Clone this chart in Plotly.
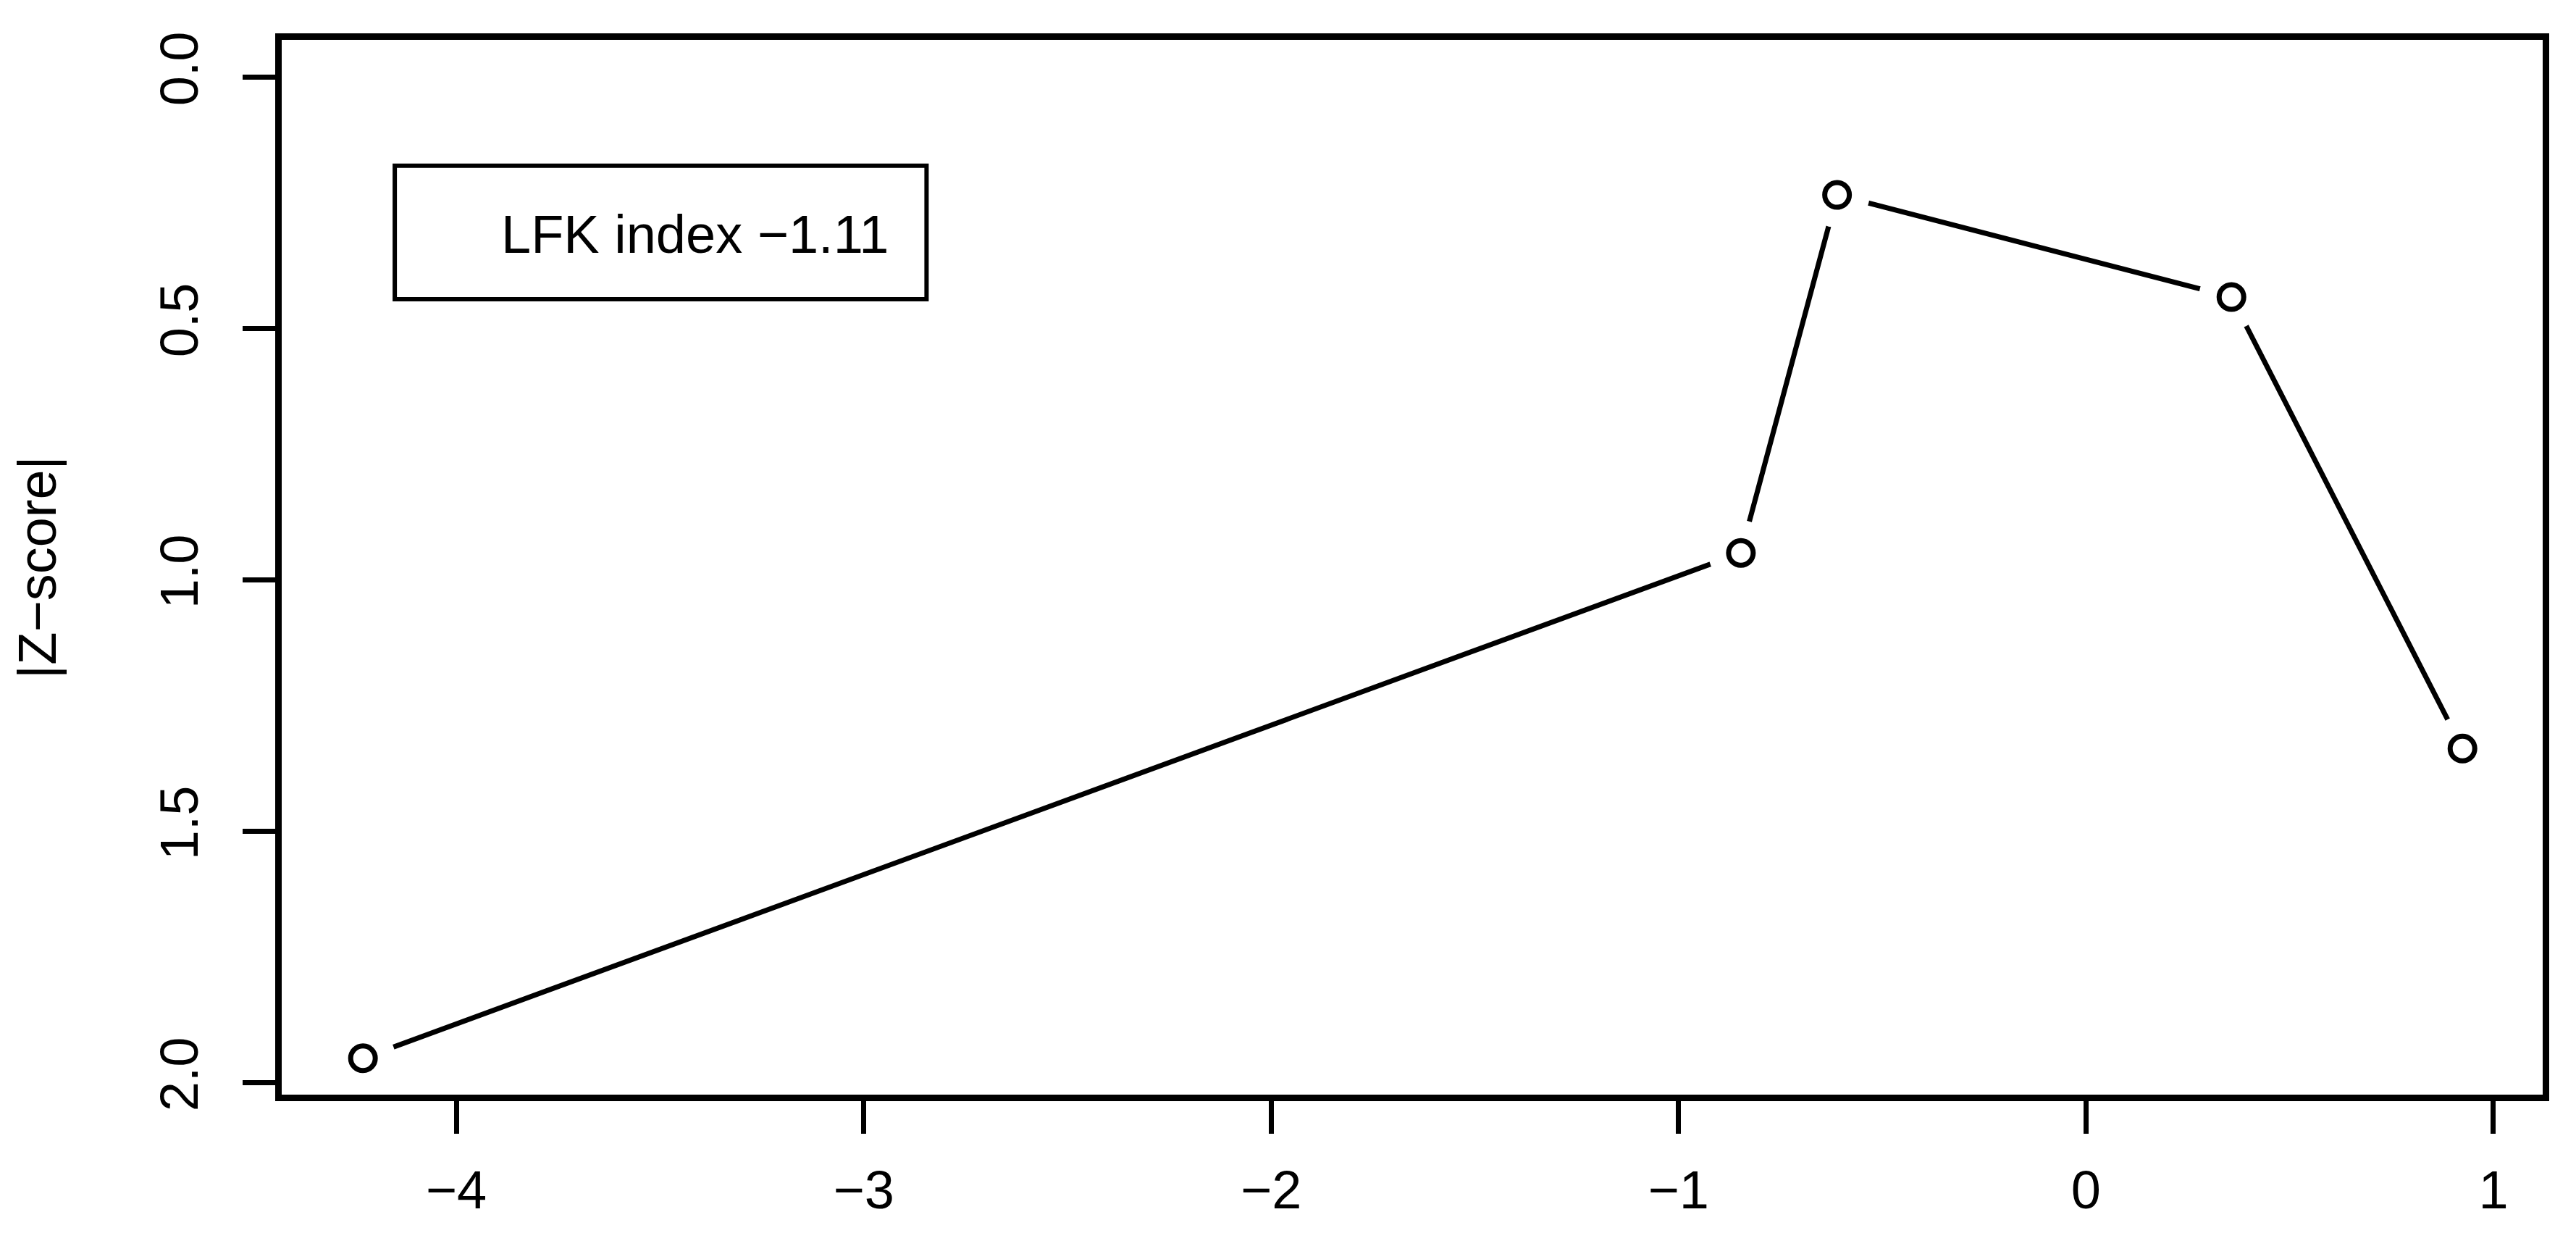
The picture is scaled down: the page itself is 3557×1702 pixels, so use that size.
import plotly.graph_objects as go

# valores (Doi plot)
effect = [-4.229, -0.847, -0.611, 0.357, 0.924]
zscore = [1.952, 0.947, 0.235, 0.438, 1.336]
lfk_label = "LFK index \u22121.11"
x_ticks = [-4, -3, -2, -1, 0, 1]
y_ticks = [0.0, 0.5, 1.0, 1.5, 2.0]
y_ticktext = ["0.0", "0.5", "1.0", "1.5", "2.0"]

FONT = "Liberation Sans, Arial, Helvetica, sans-serif"

fig = go.Figure()
# linea que une los puntos
fig.add_trace(go.Scatter(x=effect, y=zscore, mode="lines",
                         line=dict(color="black", width=7), showlegend=False, hoverinfo="skip"))
# disco blanco para el hueco alrededor de cada punto (como type="b" en R)
fig.add_trace(go.Scatter(x=effect, y=zscore, mode="markers",
                         marker=dict(symbol="circle", size=90, color="white", line=dict(width=0)),
                         showlegend=False, hoverinfo="skip"))
# circulos abiertos
fig.add_trace(go.Scatter(x=effect, y=zscore, mode="markers",
                         marker=dict(symbol="circle-open", size=34, color="black", line=dict(width=7)),
                         showlegend=False))

axis_common = dict(showline=True, linecolor="black", linewidth=9, mirror=True,
                   showgrid=False, zeroline=False, ticks="outside", ticklen=45,
                   tickwidth=7, tickcolor="black",
                   tickfont=dict(family=FONT, size=74, color="black"))

fig.update_xaxes(range=[-4.4284, 1.1209], tickvals=x_ticks, ticklabelstandoff=14, **axis_common)
fig.update_yaxes(range=[2.0245, -0.0735], tickvals=y_ticks, ticktext=y_ticktext,
                 tickangle=-90, ticklabelstandoff=32, **axis_common)

# caja de la leyenda
fig.add_shape(type="rect", xref="paper", yref="paper",
              x0=0.0500, x1=0.2852, y0=0.7541, y1=0.8807,
              line=dict(color="black", width=6), fillcolor="white", layer="above")
fig.add_annotation(text=lfk_label, xref="paper", yref="paper", x=0.0965, y=0.8156,
                   xanchor="left", yanchor="middle", showarrow=False,
                   font=dict(family=FONT, size=74, color="black"))
# titulo del eje y
fig.add_annotation(text="|Z\u2212score|", xref="paper", yref="paper", x=0, y=0.5,
                   xanchor="center", yanchor="middle", xshift=-338, textangle=-90,
                   showarrow=False, font=dict(family=FONT, size=74, color="black"))

fig.update_layout(width=3557, height=1702, plot_bgcolor="white", paper_bgcolor="white",
                  margin=dict(l=381, r=54, t=47, b=199, autoexpand=False))

fig.write_html("out.html")
